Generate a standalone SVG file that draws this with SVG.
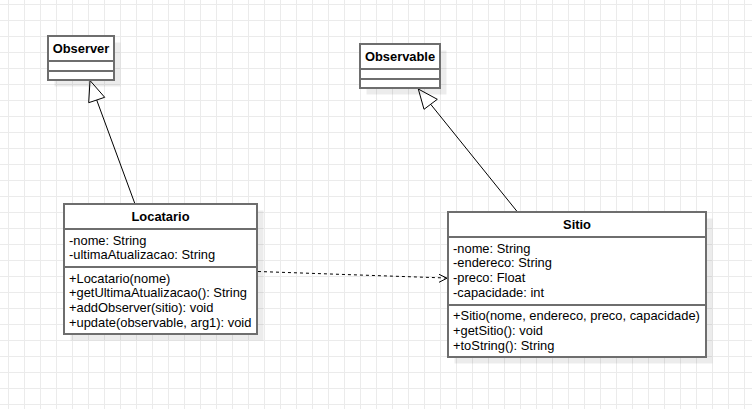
<svg xmlns="http://www.w3.org/2000/svg" width="752" height="409" viewBox="0 0 752 409">
<style>
.box{fill:#fff;stroke:#6e6e6e;stroke-width:2}
.div{stroke:#6e6e6e;stroke-width:2;fill:none}
.shadow{fill:#000;fill-opacity:0.075}
text{font-family:"Liberation Sans",Arial,Helvetica,sans-serif;font-size:12.9px;fill:#000}
.title{font-weight:bold;text-anchor:middle}
.edge{stroke:#000;stroke-width:1;fill:none}
.tri{fill:#fff;stroke:#000;stroke-width:1}
</style>
<defs>
<pattern id="grid" width="16" height="16" patternUnits="userSpaceOnUse">
<rect x="8" y="0" width="1" height="16" fill="#ebebeb"/>
<rect x="0" y="4" width="16" height="1" fill="#ebebeb"/>
</pattern>
</defs>
<rect x="0" y="0" width="752" height="409" fill="#fff"/>
<rect x="0" y="0" width="752" height="409" fill="url(#grid)"/>

<g id="connectors">
<line class="edge" x1="96.7" y1="100" x2="135" y2="204"/>
<polygon class="tri" points="90,80.5 104.7,97.3 88.7,102.7"/>
<line class="edge" x1="430.7" y1="104.3" x2="517.5" y2="212"/>
<polygon class="tri" points="418.3,89 437.3,99.3 424,109.3"/>
<line class="edge" x1="258" y1="271.5" x2="446" y2="278" stroke-dasharray="3 3"/>
<polyline class="edge" points="439,274.3 447,278.2 439,282.3"/>
</g>

<g id="observer">
<rect class="shadow" x="54.5" y="42.5" width="66" height="44"/>
<rect class="box" x="48" y="36" width="66" height="44"/>
<line class="div" x1="48" y1="61" x2="114" y2="61"/>
<line class="div" x1="48" y1="71" x2="114" y2="71"/>
<text class="title" x="81" y="53">Observer</text>
</g>

<g id="observable">
<rect class="shadow" x="366.5" y="50.5" width="80" height="44"/>
<rect class="box" x="360" y="44" width="80" height="44"/>
<line class="div" x1="360" y1="69" x2="440" y2="69"/>
<line class="div" x1="360" y1="79" x2="440" y2="79"/>
<text class="title" x="400" y="61">Observable</text>
</g>

<g id="locatario">
<rect class="shadow" x="70.5" y="210.5" width="193" height="130"/>
<rect class="box" x="64" y="204" width="193" height="130"/>
<line class="div" x1="64" y1="229" x2="257" y2="229"/>
<line class="div" x1="64" y1="267" x2="257" y2="267"/>
<text class="title" x="160.5" y="221">Locatario</text>
<text x="69" y="244.5">-nome: String</text>
<text x="69" y="258.5">-ultimaAtualizacao: String</text>
<text x="69" y="282.5">+Locatario(nome)</text>
<text x="69" y="296.5">+getUltimaAtualizacao(): String</text>
<text x="69" y="311.5">+addObserver(sitio): void</text>
<text x="69" y="326.5">+update(observable, arg1): void</text>
</g>

<g id="sitio">
<rect class="shadow" x="454.5" y="218.5" width="258" height="145"/>
<rect class="box" x="448" y="212" width="258" height="145"/>
<line class="div" x1="448" y1="237" x2="706" y2="237"/>
<line class="div" x1="448" y1="305" x2="706" y2="305"/>
<text class="title" x="577" y="229">Sitio</text>
<text x="453" y="252.5">-nome: String</text>
<text x="453" y="267">-endereco: String</text>
<text x="453" y="282">-preco: Float</text>
<text x="453" y="297">-capacidade: int</text>
<text x="453" y="320">+Sitio(nome, endereco, preco, capacidade)</text>
<text x="453" y="335">+getSitio(): void</text>
<text x="453" y="350">+toString(): String</text>
</g>
</svg>
